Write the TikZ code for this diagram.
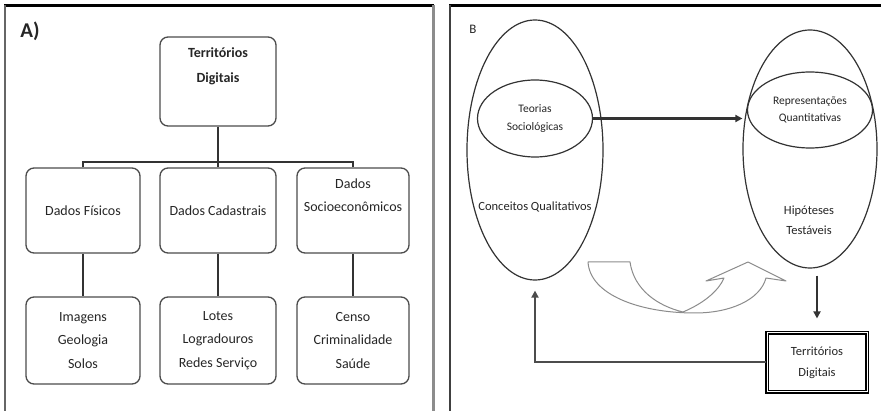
\documentclass[tikz,border=0pt]{standalone}
\usepackage{fontspec}
\setmainfont{Carlito}
\usetikzlibrary{shapes.geometric,arrows.meta}
\begin{document}
\begin{tikzpicture}[x=1pt,y=-1pt,
  rbox/.style={draw=black!70, line width=1.3pt, rounded corners=8pt, align=center, inner sep=0pt,
    text=black!85, font=\fontsize{14}{23.5}\selectfont},
  conn/.style={draw=black!80, line width=2.4pt},
  ell/.style={ellipse, draw=black!80, line width=1.2pt, inner sep=0pt, align=center},
  txt/.style={align=center, inner sep=0pt, text=black!85},
  smalltxt/.style={txt, font=\fontsize{11.5}{17.5}\selectfont},
  arr/.style={draw=black!80, line width=2pt, -{Triangle[length=7pt,width=7pt]}},
  frameline/.style={line width=2.5pt, draw=black}
]
\useasboundingbox (0,0) rectangle (881,411);
\fill[white] (0,0) rectangle (881,411);

% panel frames
\draw[frameline] (4,5.5) -- (434,5.5);
\draw[frameline] (449,5.5) -- (881,5.5);
\draw[line width=1.2pt, draw=black!60] (5,5) -- (5,411);
\draw[line width=3pt, draw=black!45] (433,5) -- (433,411);
\draw[line width=2pt, draw=black!75] (450,5) -- (450,411);

% ---------- panel A ----------
\node[txt, font=\fontsize{21}{21}\selectfont\bfseries] (la) at (30,31) {A)};

\node[rbox, minimum width=116pt, minimum height=89pt, font=\fontsize{14}{25}\selectfont\bfseries]
  (top) at (218,81.5) {Territórios\\Digitais\\ \strut};

\node[rbox, minimum width=114pt, minimum height=85pt] (b1) at (83,210.5) {Dados Físicos};
\node[rbox, minimum width=116pt, minimum height=85pt] (b2) at (218,210.5) {Dados Cadastrais};
\node[rbox, minimum width=112pt, minimum height=85pt] (b3) at (353,210.5) {Dados\\Socioeconômicos\\ \strut};

\node[rbox, minimum width=114pt, minimum height=87pt] (c1) at (83,340.5) {Imagens\\Geologia\\Solos};
\node[rbox, minimum width=116pt, minimum height=87pt] (c2) at (218,340.5) {Lotes\\Logradouros\\Redes Serviço};
\node[rbox, minimum width=112pt, minimum height=87pt] (c3) at (353,340.5) {Censo\\Criminalidade\\Saúde};

\coordinate (bar) at (218,162);
\draw[conn] (top.south) -- (bar);
\draw[conn] (b1.north) |- (bar) -| (b3.north);
\draw[conn] (bar) -- (b2.north);
\draw[conn] (b1.south) -- (c1.north);
\draw[conn] (b2.south) -- (c2.north);
\draw[conn] (b3.south) -- (c3.north);

% ---------- panel B ----------
\node[txt, font=\fontsize{13}{13}\selectfont] (lb) at (473,29) {B};

\node[ell, minimum width=136pt, minimum height=260pt] (conc) at (535,150) {};
\node[ell, minimum width=115pt, minimum height=77pt, smalltxt] (teo) at (535,118.5) {Teorias\\Sociológicas};
\node[smalltxt, font=\fontsize{12.5}{17}\selectfont] (conct) at (535,207) {Conceitos Qualitativos};

\node[ell, minimum width=134pt, minimum height=238pt] (hip) at (810,149) {};
\node[ell, minimum width=125pt, minimum height=76pt, smalltxt] (rep) at (810,110) {Representações\\Quantitativas};
\node[smalltxt, font=\fontsize{12.5}{20}\selectfont] (hipt) at (809,220) {Hipóteses\\Testáveis};

\node[draw=black, line width=1.1pt, double, double distance=1pt, minimum width=100pt, minimum height=59pt,
  inner sep=0pt, align=center, text=black!85, font=\fontsize{12.5}{21}\selectfont] (td) at (817,362.5) {Territórios\\Digitais};

\draw[arr, line width=3pt] (teo.east) -- (teo.east -| hip.west);
\draw[arr, shorten <=7pt, shorten >=14pt] (td.north |- hip.south) -- (td.north);
\draw[arr, draw=black!70, shorten >=10pt] (td.west) -| (conc.south);

% curved U-turn arrow
\draw[draw=black!45, line width=1pt, fill=white, line join=round]
  (588,262) -- (630,262)
  .. controls (634,290) and (658,306) .. (683,312)
  .. controls (702,304) and (718,292) .. (724,278)
  -- (706,281) -- (748,262) -- (786,281) -- (766,278)
  .. controls (760,300) and (730,313) .. (695,313)
  .. controls (640,313) and (590,295) .. (588,262) -- cycle;
\end{tikzpicture}
\end{document}
